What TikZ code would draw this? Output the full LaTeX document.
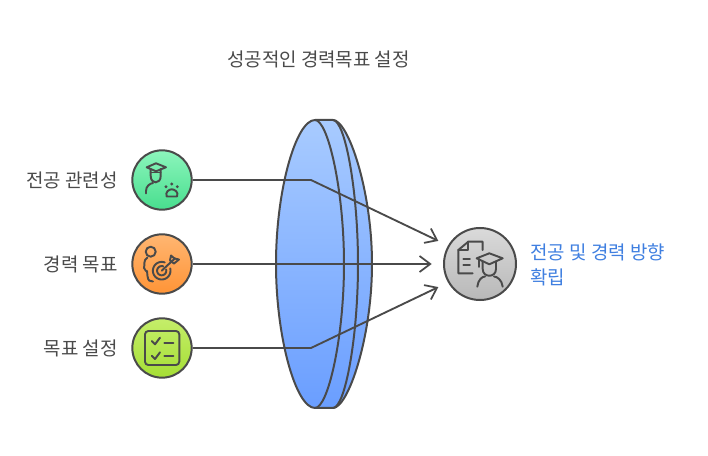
\documentclass[tikz,border=0pt]{standalone}
\usepackage{fontspec}
\setmainfont{Noto Sans CJK KR}
\usetikzlibrary{arrows.meta}
\definecolor{ink}{HTML}{4A4A4A}
\definecolor{lensT}{HTML}{A8CBFF}
\definecolor{lensB}{HTML}{6A9EFF}
\definecolor{labelblue}{HTML}{3F7FE0}
\definecolor{greenT}{HTML}{8CF5BC}
\definecolor{greenB}{HTML}{48DE8E}
\definecolor{orangeT}{HTML}{FFB672}
\definecolor{orangeB}{HTML}{FF9436}
\definecolor{limeT}{HTML}{C5EE6A}
\definecolor{limeB}{HTML}{A5DE35}
\definecolor{grayT}{HTML}{DADADA}
\definecolor{grayB}{HTML}{B8B8B8}
\tikzset{
  x=0.75pt,y=-0.75pt,
  disc/.style={circle,draw=ink,line width=1.5pt,minimum size=44.5pt,inner sep=0pt},
  lbl/.style={text=ink,font=\fontsize{14.2pt}{17pt}\selectfont,inner sep=0pt},
  conn/.style={draw=ink,line width=1.4pt,line join=round},
  tip/.style={-{Straight Barb[length=8pt,width=12pt,line width=1.3pt]}},
  ico/.style={draw=ink,line width=1.45pt,line cap=round,line join=round,fill=none},
  lensline/.style={draw=ink,line width=1.5pt,line join=round},
}
\begin{document}
\begin{tikzpicture}
\useasboundingbox (0,0) rectangle (708,456);
% lens
\path[top color=lensT,bottom color=lensB]
  (315,120) -- (333,120) .. controls (348,120) and (372,190) .. (372,264)
  .. controls (372,338) and (348,408) .. (333,408) -- (315,408)
  .. controls (296,408) and (276,338) .. (276,264)
  .. controls (276,190) and (296,120) .. (315,120) -- cycle;
\draw[lensline]
  (315,120) -- (333,120) .. controls (348,120) and (372,190) .. (372,264)
  .. controls (372,338) and (348,408) .. (333,408) -- (315,408)
  .. controls (296,408) and (276,338) .. (276,264)
  .. controls (276,190) and (296,120) .. (315,120);
\draw[lensline] (315,120) .. controls (328,120) and (344,190) .. (344,264)
  .. controls (344,338) and (328,408) .. (315,408);
\draw[lensline] (333,120) .. controls (345,120) and (358,190) .. (358,264)
  .. controls (358,338) and (345,408) .. (333,408);
% nodes
\node[disc,top color=greenT,bottom color=greenB] (a) at (162,180) {};
\node[disc,top color=orangeT,bottom color=orangeB] (b) at (162,264) {};
\node[disc,top color=limeT,bottom color=limeB] (c) at (162,348) {};
\node[disc,minimum size=54pt,top color=grayT,bottom color=grayB] (t) at (480,264) {};
\node[lbl,anchor=east] (la) at (118,180) {전공 관련성};
\node[lbl,anchor=east] (lb) at (118,264) {경력 목표};
\node[lbl,anchor=east] (lc) at (118,348) {목표 설정};
\node[lbl,anchor=center] (title) at (318.5,59) {성공적인 경력목표 설정};
\node[lbl,anchor=north west,text=labelblue,align=left,font=\fontsize{14.2pt}{18.75pt}\selectfont] (lt) at (530,243) {전공 및 경력 방향\\확립};
\coordinate (ka) at (311,180);
\coordinate (kc) at (311,348);
% connectors
\draw[conn,tip,shorten >=8pt] (a.east) -- (ka) -- (t.150);
\draw[conn,tip,shorten >=8.5pt] (b.east) -- (t.west);
\draw[conn,tip,shorten >=8pt] (c.east) -- (kc) -- (t.210);
% icon: graduate with paw
\draw[ico] (146.7,167.3) -- (156,163.3) -- (166,167.3) -- (156,171.3) -- cycle;
\draw[ico] (150.7,169) -- (150.7,176) .. controls (150.7,184.5) and (160.7,184.5) .. (160.7,176) -- (160.7,169);
\draw[ico] (150.7,172.5) -- (160.7,172.5);
\draw[ico] (146,193.3) -- (146,191) .. controls (146,186) and (150,183.5) .. (153,183);
\fill[ink] (166,186.7) circle (1.6) (171.7,184) circle (1.6) (177.3,186.7) circle (1.6);
\draw[ico] (166.7,196.5) .. controls (165,192) and (169,189.3) .. (171.7,189.3)
  .. controls (174.5,189.3) and (179,192) .. (177,196.5) -- cycle;
% icon: person with target
\draw[ico] (150.7,251.7) circle (5);
\draw[ico] (147.5,257.5) .. controls (143,260) and (145,265) .. (144,268) -- (146,271)
  -- (147,271) -- (147.5,276) .. controls (148,281) and (150,281.5) .. (153,281.5);
\draw[ico,domain=70:375,samples=40,smooth] plot ({161.7+8.8*cos(\x)},{270.7-8.8*sin(\x)});
\draw[ico,domain=70:375,samples=30,smooth] plot ({161.7+4.6*cos(\x)},{270.7-4.6*sin(\x)});
\draw[ico] (161.7,270.7) -- (175,258.3);
\draw[ico] (170,260.5) -- (171,255.5) -- (174.5,258.5) -- (179,259.5) -- (174,263.5) -- (170,260.5);
% icon: checklist
\draw[ico,rounded corners=2.5] (145,331) rectangle (179.3,365);
\draw[ico] (151.7,341) -- (155,344.3) -- (160,337.7);
\draw[ico] (164.3,342.7) -- (173.3,342.7);
\draw[ico] (151.7,355.7) -- (155,359) -- (160,352.3);
\draw[ico] (164.3,355.7) -- (173.3,355.7);
% icon: document and graduate
\draw[ico] (482.7,250) -- (482.7,241.7) -- (468.3,241.7) -- (458.3,250) -- (458.3,273.3) -- (472.7,273.3);
\draw[ico] (468.3,241.7) -- (468.3,250) -- (458.3,250);
\draw[ico] (463.3,259) -- (470,259) (463.3,265) -- (470,265);
\draw[ico] (476.7,258.3) -- (489.3,253.3) -- (502.7,258.3) -- (489.3,264.3) -- cycle;
\draw[ico] (479.3,260) -- (479.3,267);
\draw[ico] (482.7,261.7) -- (482.7,269) .. controls (482.7,278) and (496,278) .. (496,269) -- (496,261.7);
\draw[ico] (477.3,286.7) .. controls (478,280) and (482,276.5) .. (485,276.5);
\draw[ico] (502.7,286.7) .. controls (502,280) and (497,276.5) .. (494,276.5);
\end{tikzpicture}
\end{document}
